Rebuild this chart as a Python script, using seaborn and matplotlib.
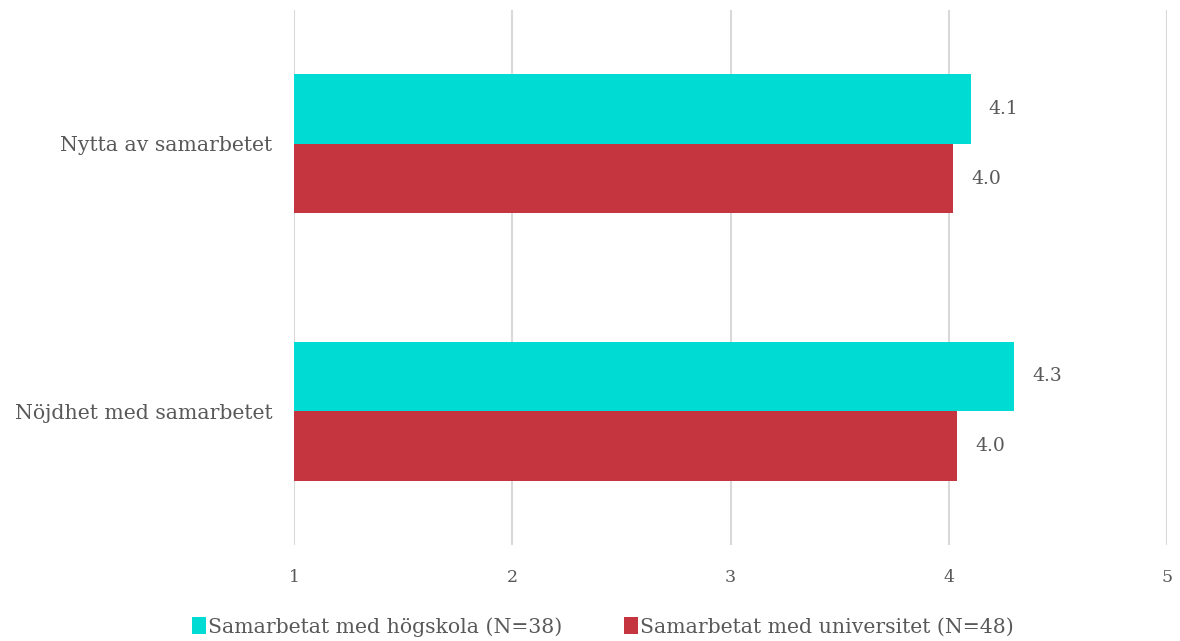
import matplotlib
matplotlib.use("Agg")
import matplotlib.pyplot as plt
import seaborn as sns
import pandas as pd
from matplotlib.patches import Patch

categories = ["Nytta av samarbetet", "Nöjdhet med samarbetet"]
series_names = ["Samarbetat med högskola (N=38)", "Samarbetat med universitet (N=48)"]
hogskola = [4.1, 4.3]
universitet = [4.02, 4.04]
value_labels_hogskola = ["4.1", "4.3"]
value_labels_universitet = ["4.0", "4.0"]
x_ticks = [1, 2, 3, 4, 5]

colors = ["#00DCD4", "#C4353F"]
text_color = "#595959"

sns.set_theme(style="white")
plt.rcParams["font.family"] = ["DejaVu Serif"]

df = pd.DataFrame({
    "Kategori": categories * 2,
    "Serie": [series_names[0]] * 2 + [series_names[1]] * 2,
    "Värde": hogskola + universitet,
})

fig = plt.figure(figsize=(11.8, 6.41), dpi=100)
ax = fig.add_axes([294 / 1180, 1 - 545 / 641, (1167 - 294) / 1180, 535 / 641])

sns.barplot(data=df, y="Kategori", x="Värde", hue="Serie", orient="h",
            palette=colors, width=0.52, ax=ax, legend=False, saturation=1,
            order=categories, hue_order=series_names, linewidth=0)

ax.set_xlim(1, 5)
ax.set_ylim(1.5, -0.5)
ax.set_xticks(x_ticks)
ax.set_xticklabels([str(t) for t in x_ticks])
ax.xaxis.grid(True, color="#D9D9D9", linewidth=1.5)
ax.set_axisbelow(True)
for s in ax.spines.values():
    s.set_visible(False)
ax.set_xlabel("")
ax.set_ylabel("")
ax.tick_params(axis="x", length=0, pad=17, labelsize=12.5, labelcolor=text_color)
ax.tick_params(axis="y", length=0, pad=15.5, labelsize=14.7, labelcolor=text_color)

labels_all = [value_labels_hogskola, value_labels_universitet]
for container, labs in zip(ax.containers, labels_all):
    ax.bar_label(container, labels=labs, padding=13, fontsize=13.5, color=text_color)

handles = [Patch(facecolor=c, edgecolor="none") for c in colors]
fig.legend(handles, series_names, loc="center", bbox_to_anchor=(603 / 1180, 1 - 627 / 641),
           ncol=2, frameon=False, fontsize=14.7, labelcolor=text_color,
           handlelength=0.7, handleheight=0.9, handletextpad=0.1, columnspacing=3.0)

fig.savefig("out.png", dpi=100)
